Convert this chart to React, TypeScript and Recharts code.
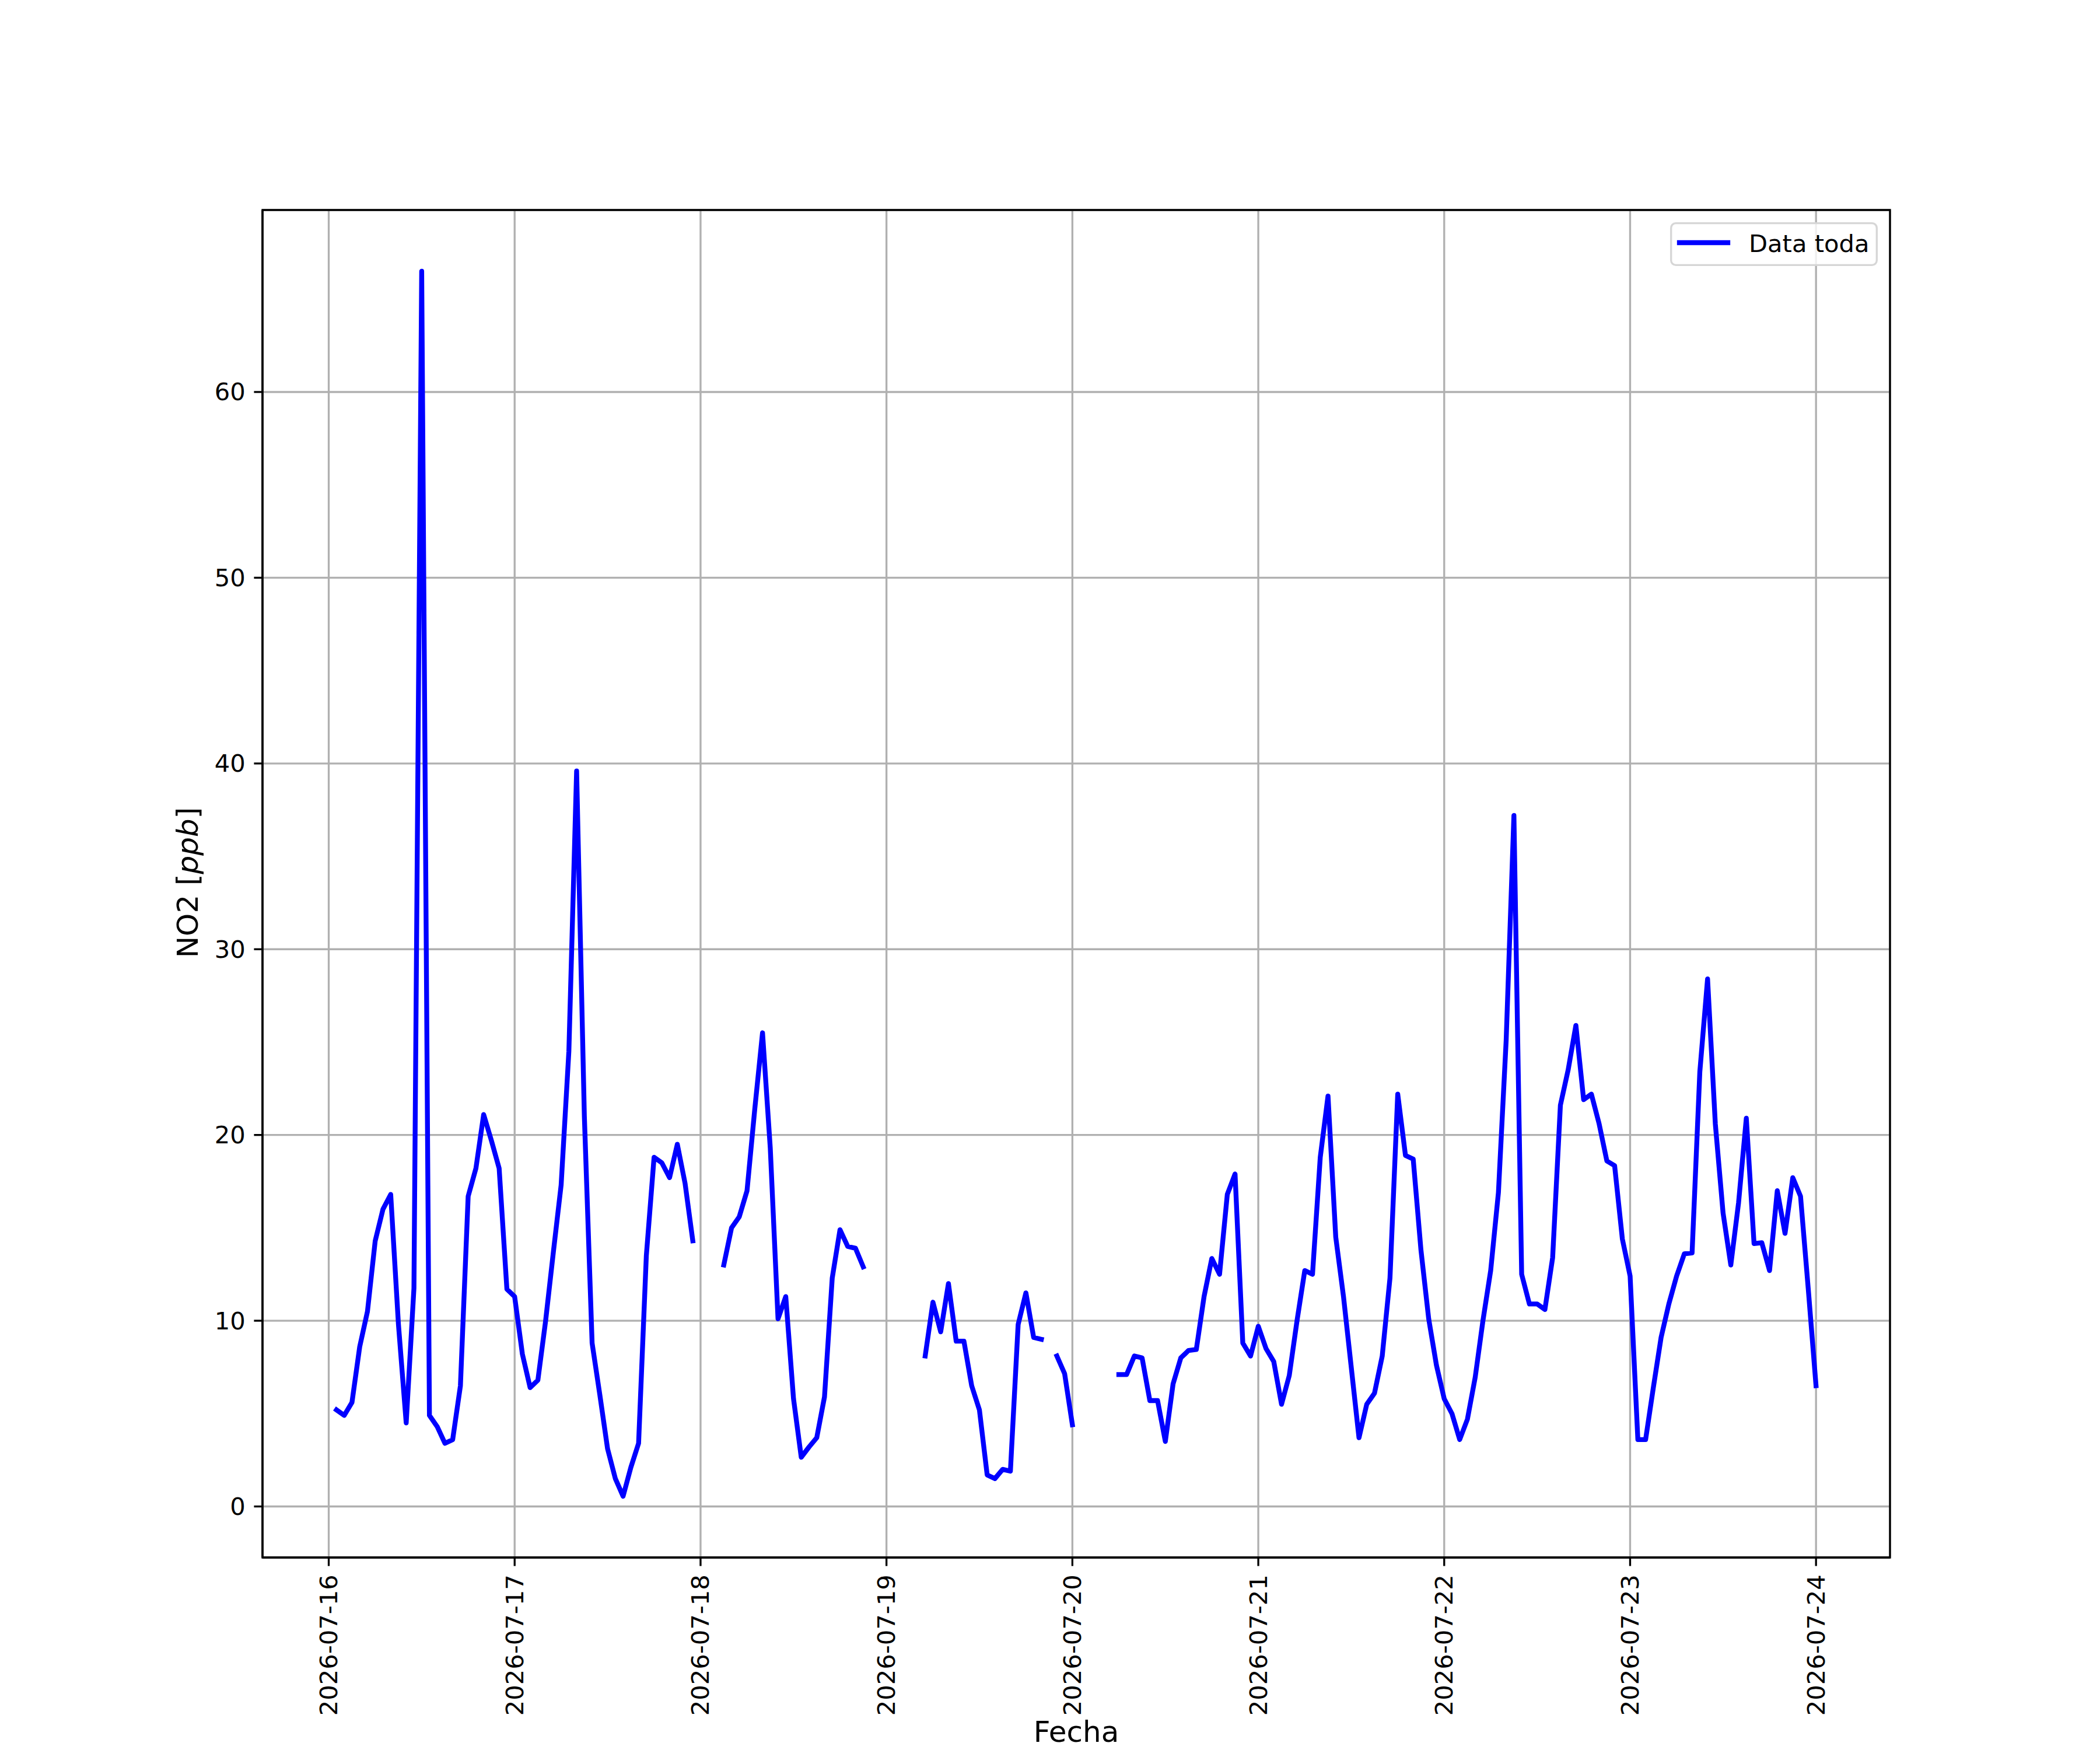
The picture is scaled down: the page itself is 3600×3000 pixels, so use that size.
import { CartesianGrid, Label, Legend, Line, LineChart, ReferenceArea, XAxis, YAxis } from 'recharts';

// hourly NO2 readings, one array per day (index = hour), null = no data
const dayLabels = [
  '2026-07-16', '2026-07-17', '2026-07-18', '2026-07-19', '2026-07-20',
  '2026-07-21', '2026-07-22', '2026-07-23', '2026-07-24',
];

const jul16 = [
  null, 5.2, 4.9, 5.6, 8.6, 10.5, 14.3, 16.0, 16.8, 9.8, 4.5, 11.75,
  66.5, 4.9, 4.3, 3.4, 3.6, 6.5, 16.7, 18.2, 21.1, 19.7, 18.2, 11.7,
];
const jul17 = [
  11.3, 8.2, 6.4, 6.8, 10.0, 13.7, 17.3, 24.5, 39.6, 21.0, 8.8, 6.0,
  3.1, 1.5, 0.55, 2.1, 3.4, 13.5, 18.8, 18.5, 17.7, 19.5, 17.4, 14.3,
];
const jul18 = [
  null, null, null, 13.0, 15.0, 15.6, 17.0, 21.4, 25.5, 19.3, 10.1, 11.3,
  5.8, 2.65, 3.2, 3.7, 5.9, 12.3, 14.9, 14.0, 13.9, 12.9, null, null,
];
const jul19 = [
  null, null, null, null, null, 8.1, 11.0, 9.4, 12.0, 8.9, 8.9, 6.5,
  5.2, 1.7, 1.5, 2.0, 1.9, 9.8, 11.5, 9.1, 9.0, null, 8.1, 7.15,
];
const jul20 = [
  4.4, null, null, null, null, null, 7.1, 7.1, 8.1, 8.0, 5.7, 5.7,
  3.5, 6.6, 8.0, 8.4, 8.45, 11.3, 13.35, 12.5, 16.8, 17.9, 8.8, 8.1,
];
const jul21 = [
  9.7, 8.5, 7.8, 5.5, 7.05, 10.0, 12.7, 12.5, 18.8, 22.1, 14.5, 11.3,
  7.5, 3.7, 5.5, 6.1, 8.1, 12.3, 22.2, 18.9, 18.7, 13.8, 10.1, 7.6,
];
const jul22 = [
  5.8, 5.0, 3.6, 4.7, 6.95, 10.0, 12.7, 16.9, 25.1, 37.2, 12.5, 10.9,
  10.9, 10.6, 13.4, 21.6, 23.5, 25.9, 21.9, 22.2, 20.6, 18.6, 18.35, 14.4,
];
const jul23 = [
  12.4, 3.6, 3.6, 6.4, 9.1, 10.9, 12.4, 13.6, 13.65, 23.4, 28.4, 20.6,
  15.8, 13.0, 16.35, 20.9, 14.15, 14.2, 12.7, 17.0, 14.7, 17.7, 16.7, 11.7,
];
const jul24 = [6.5];

const days: (number | null)[][] = [jul16, jul17, jul18, jul19, jul20, jul21, jul22, jul23, jul24];
const yTicks = [0, 10, 20, 30, 40, 50, 60];

const rows = days.flatMap((vals, d) => vals.map((v, h) => ({ t: d * 24 + h, no2: v })));
const valid = rows.filter((r) => r.no2 !== null);
const tMin = Math.min(...valid.map((r) => r.t));
const tMax = Math.max(...valid.map((r) => r.t));
const vMin = Math.min(...valid.map((r) => r.no2 as number));
const vMax = Math.max(...valid.map((r) => r.no2 as number));
const xPad = (tMax - tMin) * 0.05;
const yPad = (vMax - vMin) * 0.05;
const xDomain = [tMin - xPad, tMax + xPad];
const yDomain = [vMin - yPad, vMax + yPad];
const xTicks = dayLabels.map((_, i) => i * 24);

const FONT = '"DejaVu Sans", sans-serif';
const FS = 41.67;
const LABEL_FS = 50;
const LW = 3.33;
const LINE_W = 8.33;

const XTick = (props: any) => {
  const { x, y, payload } = props;
  return (
    <text
      x={x}
      y={y}
      transform={`rotate(-90 ${x} ${y})`}
      textAnchor="end"
      dominantBaseline="central"
      fontFamily={FONT}
      fontSize={FS}
      fill="#000"
    >
      {dayLabels[Math.round(payload.value / 24)]}
    </text>
  );
};

const YTick = (props: any) => {
  const { x, y, payload } = props;
  return (
    <text x={x} y={y} textAnchor="end" dominantBaseline="central" fontFamily={FONT} fontSize={FS} fill="#000">
      {payload.value}
    </text>
  );
};

const LegendBox = () => (
  <svg width={356} height={75} style={{ display: 'block' }}>
    <rect x={1.7} y={1.7} width={352.6} height={71.6} rx={8} fill="rgba(255,255,255,0.8)" stroke="#d6d6d6" strokeWidth={LW} />
    <line x1={16} x2={99} y1={35} y2={35} stroke="#0000ff" strokeWidth={LINE_W} strokeLinecap="square" />
    <text x={135} y={51} fontFamily={FONT} fontSize={FS} fill="#000">
      Data toda
    </text>
  </svg>
);

export default function App() {
  return (
    <div style={{ position: 'absolute', left: 0, top: 0, width: 3600, height: 3000, background: '#fff' }}>
      <LineChart width={3600} height={3000} data={rows} margin={{ top: 360, right: 360, bottom: 30, left: 350 }}>
        <CartesianGrid stroke="#b0b0b0" strokeWidth={LW} />
        <XAxis
          dataKey="t"
          type="number"
          domain={xDomain}
          ticks={xTicks}
          interval={0}
          allowDataOverflow
          height={300}
          tickSize={14.58}
          tickMargin={14.58}
          tick={<XTick />}
          tickLine={{ stroke: '#000', strokeWidth: LW }}
          axisLine={{ stroke: '#000', strokeWidth: LW }}
        >
          <Label
            content={() => (
              <text x={1845} y={2986} textAnchor="middle" fontFamily={FONT} fontSize={LABEL_FS} fill="#000">
                Fecha
              </text>
            )}
          />
        </XAxis>
        <YAxis
          type="number"
          domain={yDomain}
          ticks={yTicks}
          interval={0}
          allowDataOverflow
          width={100}
          tickSize={14.58}
          tickMargin={14.58}
          tick={<YTick />}
          tickLine={{ stroke: '#000', strokeWidth: LW }}
          axisLine={{ stroke: '#000', strokeWidth: LW }}
        >
          <Label
            content={() => (
              <text
                x={339}
                y={1513}
                transform="rotate(-90 339 1513)"
                textAnchor="middle"
                fontFamily={FONT}
                fontSize={LABEL_FS}
                fill="#000"
              >
                NO2 [<tspan fontStyle="italic">ppb</tspan>]
              </text>
            )}
          />
        </YAxis>
        <ReferenceArea
          x1={xDomain[0]}
          x2={xDomain[1]}
          y1={yDomain[0]}
          y2={yDomain[1]}
          fill="none"
          fillOpacity={0}
          stroke="#000"
          strokeWidth={LW}
          ifOverflow="visible"
        />
        <Line
          dataKey="no2"
          name="Data toda"
          type="linear"
          stroke="#0000ff"
          strokeWidth={LINE_W}
          strokeLinecap="square"
          strokeLinejoin="round"
          dot={false}
          activeDot={false}
          connectNulls={false}
          isAnimationActive={false}
        />
        <Legend
          layout="vertical"
          align="center"
          verticalAlign="middle"
          wrapperStyle={{ position: 'absolute', left: 2863, top: 381, width: 356, height: 75 }}
          content={() => <LegendBox />}
        />
      </LineChart>
    </div>
  );
}
